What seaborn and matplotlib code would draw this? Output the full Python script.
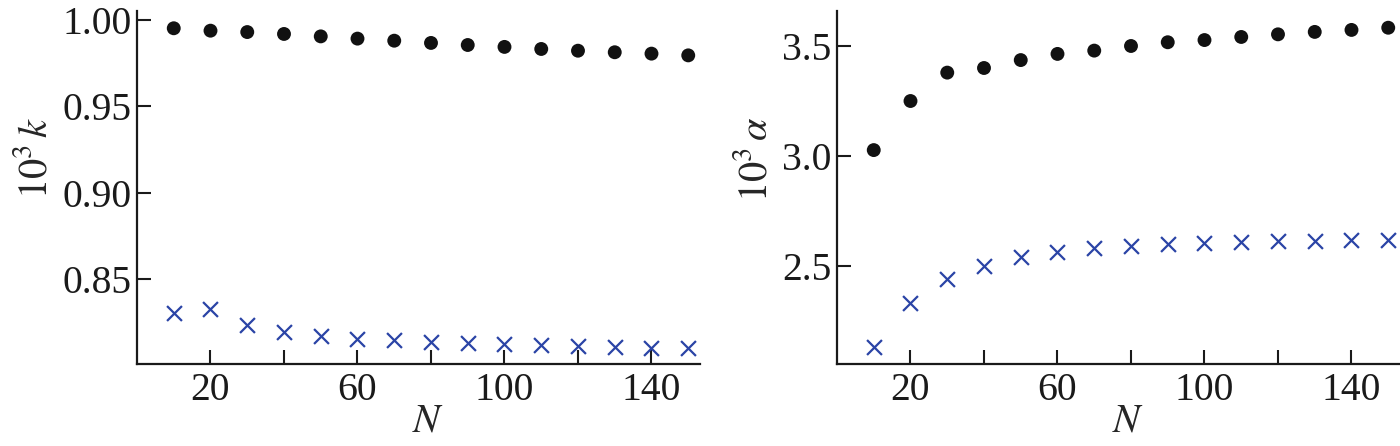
import numpy as np
import pandas as pd
import matplotlib
matplotlib.use('Agg')
import matplotlib.pyplot as plt
import seaborn as sns

# Data
N = [10, 20, 30, 40, 50, 60, 70, 80, 90, 100, 110, 120, 130, 140, 150]

k_dots = [0.9952, 0.9938, 0.9930, 0.9919, 0.9905, 0.9892, 0.9880, 0.9867,
          0.9855, 0.9844, 0.9832, 0.9822, 0.9813, 0.9805, 0.9795]
k_cross = [0.8303, 0.8326, 0.8235, 0.8193, 0.8172, 0.8154, 0.8144, 0.8135,
           0.8129, 0.8121, 0.8118, 0.8110, 0.8106, 0.8102, 0.8102]

a_dots = [3.027, 3.250, 3.379, 3.400, 3.436, 3.464, 3.479, 3.500,
          3.517, 3.527, 3.541, 3.553, 3.564, 3.573, 3.583]
a_cross = [2.133, 2.333, 2.440, 2.500, 2.542, 2.563, 2.580, 2.592,
           2.599, 2.603, 2.608, 2.612, 2.615, 2.617, 2.617]

x_ticks = [20, 40, 60, 80, 100, 120, 140]
x_labels = ['20', '', '60', '', '100', '', '140']

sns.set_style('ticks')
plt.rcParams['font.family'] = ['Liberation Serif', 'DejaVu Serif']
plt.rcParams['mathtext.fontset'] = 'stix'

blue = '#2a44a6'
fig = plt.figure(figsize=(14, 4.46), dpi=100)
ax1 = fig.add_axes([137 / 1400, 82 / 446, 563 / 1400, 353 / 446])
ax2 = fig.add_axes([837 / 1400, 82 / 446, 563 / 1400, 353 / 446])

df_k = pd.DataFrame({'N': N, 'dots': k_dots, 'cross': k_cross})
df_a = pd.DataFrame({'N': N, 'dots': a_dots, 'cross': a_cross})

for ax, df in [(ax1, df_k), (ax2, df_a)]:
    sns.scatterplot(data=df, x='N', y='dots', ax=ax, color='#111111',
                    marker='o', s=100, edgecolor='none', clip_on=False, zorder=3)
    sns.scatterplot(data=df, x='N', y='cross', ax=ax, color=blue,
                    marker='x', s=115, linewidth=1.6, clip_on=False, zorder=3)
    ax.set_xlim(0, 153.2)
    ax.set_xticks(x_ticks)
    ax.set_xticklabels(x_labels)
    ax.tick_params(direction='in', length=10, width=1.5, labelsize=28.5,
                   colors='#1a1a1a', pad=6)
    ax.tick_params(axis='y', pad=4)
    for sp in ['top', 'right']:
        ax.spines[sp].set_visible(False)
    for sp in ['left', 'bottom']:
        ax.spines[sp].set_linewidth(1.6)
        ax.spines[sp].set_color('#1a1a1a')
    ax.set_xlabel('$N$', fontsize=29)
    ax.xaxis.set_label_coords(0.517, -0.112)

ax1.set_ylim(0.8007, 1.0052)
ax1.set_yticks([0.85, 0.90, 0.95, 1.00])
ax1.set_yticklabels(['0.85', '0.90', '0.95', '1.00'])
ax1.set_ylabel(r'$10^3\,k$', fontsize=29)
ax1.yaxis.set_label_coords(-0.145, 0.585)

ax2.set_ylim(2.055, 3.659)
ax2.set_yticks([2.5, 3.0, 3.5])
ax2.set_yticklabels(['2.5', '3.0', '3.5'])
ax2.set_ylabel(r'$10^3\,\alpha$', fontsize=29)
ax2.yaxis.set_label_coords(-0.11, 0.58)

fig.savefig('out.png', dpi=100)
